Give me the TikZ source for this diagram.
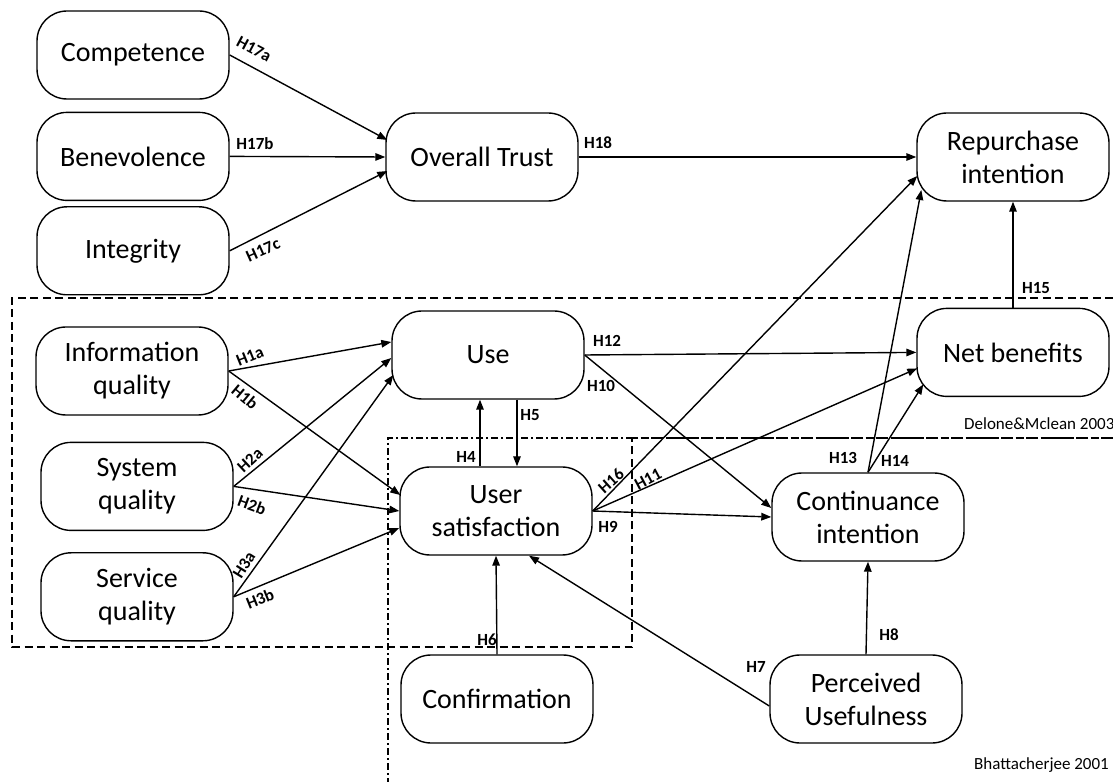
\documentclass[tikz,border=0pt]{standalone}
\usepackage{fontspec}
\setmainfont{Carlito}
\usetikzlibrary{calc,positioning,arrows.meta}
\tikzset{
  smBase/.style={
    font=\fontsize{28pt}{33pt}\selectfont,
    align=center,
    inner sep=3pt,
    line width=1.4pt,
    draw=black
  },
  smNode/.style={
    smBase,
    rounded corners=30pt,
    minimum width=192pt,
    minimum height=88pt
  },
  smLabel/.style={
    font=\fontsize{17pt}{19pt}\selectfont\bfseries,
    inner sep=0pt
  },
  smNote/.style={
    font=\fontsize{17pt}{20pt}\selectfont,
    inner sep=0pt
  },
  smArrow/.style={
    line width=1.4pt,
    -{Triangle[length=10pt,width=7.5pt]}
  },
  smDashed/.style={
    line width=1.3pt,
    dash pattern=on 8pt off 4.5pt
  },
  smDashDot/.style={
    line width=1.3pt,
    dash pattern=on 7pt off 3pt on 2pt off 3pt
  }
}
\begin{document}
\begin{tikzpicture}[x=1pt, y=1pt]
        \useasboundingbox (0,0) rectangle (1113,782);

        % trust antecedents
        \node (comp) [smNode] at (133,727) {Competence};
        \node (bene) [smNode, below=12pt of comp] {Benevolence};
        \node (integ) [smNode, below=5pt of bene] {Integrity};
        \node (trust) [smNode] at (482,625) {Overall Trust};
        \node (repur) [smNode] at (1013,625) {Repurchase\\intention};
        \node (net) [smNode, below=106pt of repur] {Net benefits};

        % Delone & Mclean
        \node (info) [smNode] at (132,411) {Information\\quality};
        \node (sysq) [smNode, below=26pt of info, xshift=5pt] {System\\quality};
        \node (servq) [smNode, below=21pt of sysq] {Service\\quality};
        \node (use) [smNode] at (488,427) {Use};
        \node (usat) [smNode] at (496,271) {User\\satisfaction};

        % Bhattacherjee
        \node (cont) [smNode] at (868,265) {Continuance\\intention};
        \node (conf) [smNode] at (497,83) {Confirmation};
        \node (pu) [smNode] at (866,83) {Perceived\\Usefulness};

        % model boundaries
        \draw [smDashed] (1113,484) -- (12,484) -- (12,135) -- (632,135) -- (632,344) -- (1113,344);
        \draw [smDashDot] (1113,344) -- (388,344) -- (388,0);
        \node (dmNote) [smNote, anchor=base west] at (964,352) {Delone\&Mclean 2003};
        \node (bhNote) [smNote, anchor=base east] at (1109,13) {Bhattacherjee 2001};

        \coordinate (h4s) at ($(usat.north)+(-16,0)$);
        \coordinate (h5s) at ($(use.south)+(29,0)$);

        \draw [smArrow] (comp.east) -- ($(trust.west)+(2,17)$);
        \draw [smArrow] (bene.east) -- (trust.west);
        \draw [smArrow] (integ.east) -- ($(trust.west)+(2,-14)$);
        \draw [smArrow] (trust.east) -- (repur.west);
        \draw [smArrow] (info.east) -- ($(use.west)+(0,13)$);
        \draw [smArrow] (info.east) -- ($(usat.west)+(1,16)$);
        \draw [smArrow] (sysq.east) -- ($(use.west)+(0,-3)$);
        \draw [smArrow] (sysq.east) -- (usat.west);
        \draw [smArrow] (servq.east) -- ($(use.west)+(2,-20)$);
        \draw [smArrow] (servq.east) -- ($(usat.west)+(0,-17)$);
        \draw [smArrow] (h4s) -- (h4s |- use.south);
        \draw [smArrow] (h5s) -- (h5s |- usat.north);
        \draw [smArrow] (conf.north) -- (usat.south);
        \draw [smArrow] ($(pu.west)+(0,-7)$) -- ($(usat.south)+(33,0)$);
        \draw [smArrow] (pu.north) -- (cont.south);
        \draw [smArrow] (usat.east) -- (cont.west);
        \draw [smArrow] (use.east) -- ($(cont.west)+(0,9)$);
        \draw [smArrow] (usat.east) -- ($(net.west)+(1,-16)$);
        \draw [smArrow] (use.east) -- (net.west);
        \draw [smArrow] (cont.north) -- ($(repur.west)+(5,-33)$);
        \draw [smArrow] (cont.north) -- ($(net.west)+(7,-32)$);
        \draw [smArrow] (net.north) -- (repur.south);
        \draw [smArrow] (usat.east) -- ($(repur.west)+(1,-19)$);

        % hypothesis labels
        \node (l17a) [smLabel, rotate=-28] at (254,733) {H17a};
        \node (l17b) [smLabel] at (255,638) {H17b};
        \node (l17c) [smLabel, rotate=24] at (263,532) {H17c};
        \node (l18) [smLabel] at (598,639) {H18};
        \node (l1a) [smLabel, rotate=22] at (250,426) {H1a};
        \node (l1b) [smLabel, rotate=-40] at (245,385) {H1b};
        \node (l2a) [smLabel, rotate=43] at (250,322) {H2a};
        \node (l2b) [smLabel, rotate=-20] at (252,277) {H2b};
        \node (l3a) [smLabel, rotate=58] at (244,217) {H3a};
        \node (l3b) [smLabel, rotate=22] at (260,183) {H3b};
        \node (l4) [smLabel] at (466,325) {H4};
        \node (l5) [smLabel] at (530,367) {H5};
        \node (l6) [smLabel] at (487,142) {H6};
        \node (l7) [smLabel] at (756,115) {H7};
        \node (l8) [smLabel] at (889,147) {H8};
        \node (l9) [smLabel] at (608,255) {H9};
        \node (l10) [smLabel] at (601,396) {H10};
        \node (l11) [smLabel, rotate=28] at (648,303) {H11};
        \node (l12) [smLabel] at (607,441) {H12};
        \node (l13) [smLabel] at (843,324) {H13};
        \node (l14) [smLabel] at (895,321) {H14};
        \node (l15) [smLabel] at (1036,494) {H15};
        \node (l16) [smLabel, rotate=42] at (611,301) {H16};
      \end{tikzpicture}
\end{document}
